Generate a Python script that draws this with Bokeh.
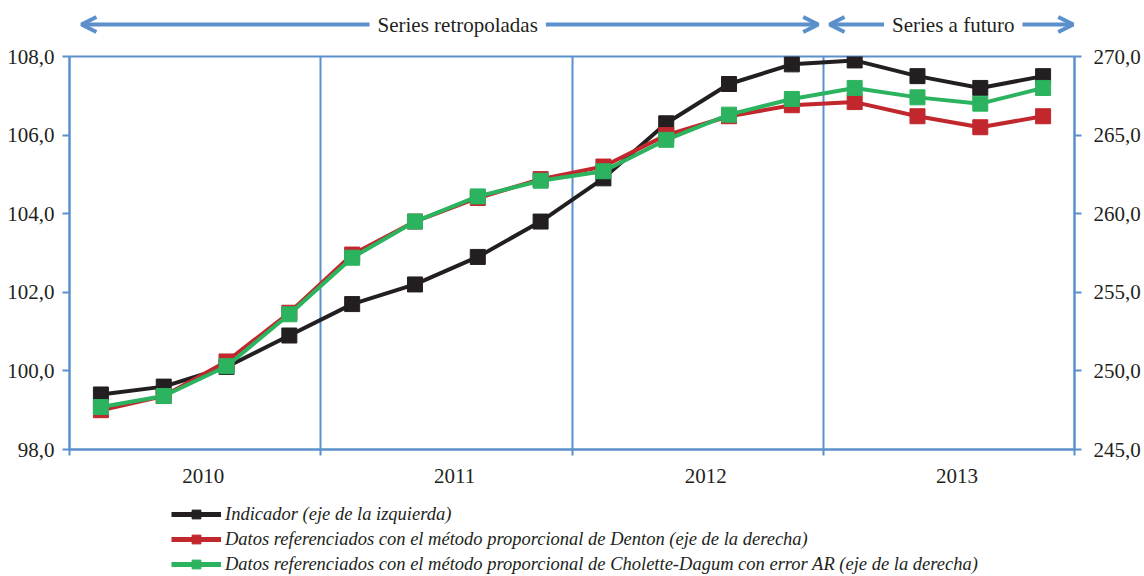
from bokeh.plotting import figure
from bokeh.models import (Range1d, LinearAxis, FixedTicker, Legend, LegendItem,
                          Arrow, OpenHead, Label)
from bokeh.layouts import column
from bokeh.embed import file_html
from bokeh.resources import INLINE

years = ["2010", "2011", "2012", "2013"]
quarters_per_year = 4
indicador = [99.4, 99.6, 100.1, 100.9, 101.7, 102.2, 102.9, 103.8,
             104.9, 106.3, 107.3, 107.8, 107.9, 107.5, 107.2, 107.5]
denton = [247.5, 248.4, 250.6, 253.7, 257.4, 259.5, 261.0, 262.2,
          263.0, 265.0, 266.2, 266.9, 267.1, 266.2, 265.5, 266.2]
cholette = [247.7, 248.4, 250.3, 253.6, 257.2, 259.5, 261.1, 262.1,
            262.7, 264.7, 266.3, 267.3, 268.0, 267.4, 267.0, 268.0]
left_ticks = [98, 100, 102, 104, 106, 108]
right_ticks = [245, 250, 255, 260, 265, 270]
legend_labels = ["Indicador (eje de la izquierda)",
                 "Datos referenciados con el método proporcional de Denton (eje de la derecha)",
                 "Datos referenciados con el método proporcional de Cholette-Dagum con error AR (eje de la derecha)"]

BLUE = "#5B90CC"
TXT = "#231F20"
FONT = "Liberation Serif"
COLS = ["#231F20", "#C1272D", "#2BB35F"]
n = len(years) * quarters_per_year
xs = [i + 0.5 for i in range(n)]
xr = Range1d(0, n)

W = 1144
LB, RB = 69, 70

# ---- top annotation strip ----
top = figure(width=W, height=40, x_range=xr, y_range=Range1d(0, 1),
             output_backend="svg", toolbar_location=None,
             min_border_left=LB, min_border_right=RB, min_border_top=0, min_border_bottom=0)
top.axis.visible = False
top.grid.visible = False
top.outline_line_color = None
ay = 0.4
def head():
    return OpenHead(size=15, line_color=BLUE, line_width=4)
top.add_layout(Arrow(start=head(), end=head(),
                     x_start=0.19, y_start=ay, x_end=11.92, y_end=ay,
                     line_color=BLUE, line_width=4))
top.add_layout(Arrow(start=head(), end=head(),
                     x_start=12.10, y_start=ay, x_end=15.98, y_end=ay,
                     line_color=BLUE, line_width=4))
for tx, txt in [(6.18, "Series retropoladas"), (14.07, "Series a futuro")]:
    top.add_layout(Label(x=tx, y=ay, text=txt, text_align="center", text_baseline="middle",
                         text_font=FONT, text_font_size="21px", text_color=TXT,
                         background_fill_color="white", padding=8))

# ---- main chart ----
p = figure(width=W, height=460, x_range=xr, y_range=Range1d(98, 108),
           output_backend="svg", toolbar_location=None,
           min_border_left=LB, min_border_right=RB, min_border_top=16, min_border_bottom=51)
p.extra_y_ranges = {"right": Range1d(245, 270)}
p.outline_line_color = BLUE
p.outline_line_width = 2
p.outline_line_alpha = 1

p.ygrid.visible = False
p.xgrid.ticker = FixedTicker(ticks=[4, 8, 12])
p.xgrid.grid_line_color = BLUE
p.xgrid.grid_line_width = 2

def style_axis(ax):
    ax.axis_line_color = BLUE
    ax.axis_line_width = 2
    ax.major_tick_line_color = BLUE
    ax.major_tick_line_width = 2
    ax.minor_tick_line_color = BLUE
    ax.minor_tick_line_width = 2
    ax.major_label_text_font = FONT
    ax.major_label_text_font_size = "21px"
    ax.major_label_text_color = TXT

label_shift = 0.13
xa = p.xaxis[0]
style_axis(xa)
xtick_pos = [2 + 4 * i + label_shift for i in range(len(years))]
xa.ticker = FixedTicker(ticks=xtick_pos, minor_ticks=[0, 4, 8, 12, 16])
xa.major_label_overrides = dict(zip(xtick_pos, years))
xa.major_tick_out = 0
xa.major_tick_in = 0
xa.minor_tick_out = 6
xa.minor_tick_in = 0
xa.major_label_standoff = 13

ya = p.yaxis[0]
style_axis(ya)
ya.ticker = FixedTicker(ticks=left_ticks, minor_ticks=[])
ya.major_label_overrides = {t: f"{t:.1f}".replace(".", ",") for t in left_ticks}
ya.major_tick_out = 7
ya.major_tick_in = 0
ya.major_label_standoff = 8

ra = LinearAxis(y_range_name="right")
style_axis(ra)
ra.ticker = FixedTicker(ticks=right_ticks, minor_ticks=[])
ra.major_label_overrides = {t: f"{t:.1f}".replace(".", ",") for t in right_ticks}
ra.major_tick_out = 7
ra.major_tick_in = 0
ra.major_label_standoff = 12
p.add_layout(ra, "right")

series = [(indicador, COLS[0], "default"), (denton, COLS[1], "right"),
          (cholette, COLS[2], "right")]
for vals, col, rng in series:
    p.line(xs, vals, line_color=col, line_width=4, y_range_name=rng)
    p.scatter(xs, vals, marker="square", size=15, fill_color=col, line_color=col,
              y_range_name=rng)

# ---- legend strip ----
lg = figure(width=W, height=76, x_range=Range1d(0, 1), y_range=Range1d(0, 1),
            output_backend="svg", toolbar_location=None,
            min_border_left=0, min_border_right=0, min_border_top=0, min_border_bottom=0)
lg.axis.visible = False
lg.grid.visible = False
lg.outline_line_color = None
items = []
for col, lab in zip(COLS, legend_labels):
    ln = lg.line([-5, -4], [-5, -5], line_color=col, line_width=5)
    sc = lg.scatter([-5], [-5], marker="square", size=13, fill_color=col, line_color=col)
    items.append(LegendItem(label=lab, renderers=[ln, sc]))
legend = Legend(items=items, location=(102, 1), orientation="vertical",
                label_text_font=FONT, label_text_font_style="italic",
                label_text_font_size="18.5px", label_text_color=TXT,
                glyph_width=50, glyph_height=22, label_height=22, spacing=3,
                label_standoff=4, padding=0, margin=0,
                border_line_color=None, background_fill_alpha=0)
lg.add_layout(legend)

layout = column(top, p, lg, spacing=0)
open("out.html", "w").write(file_html(layout, INLINE))
